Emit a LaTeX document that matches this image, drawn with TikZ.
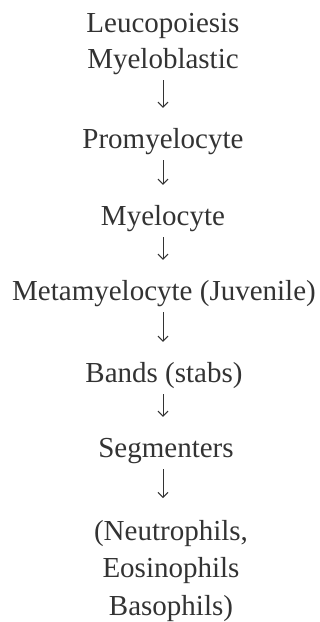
\documentclass[tikz,border=0pt]{standalone}
\usepackage{fontspec}
\setmainfont{Liberation Serif}
\usepackage{tikz}
\usetikzlibrary{arrows.meta}

\begin{document}
\begin{tikzpicture}[x=1pt,y=1pt,
    every node/.style={anchor=base,inner sep=0pt,text height=18pt,text depth=6pt,text=black!80,font=\fontsize{29}{37.5}\selectfont},
    flow/.style={black!80,line width=1pt,-{Straight Barb[length=5pt,width=10pt]},shorten <=6pt,shorten >=22pt}]
    \useasboundingbox (0,0) rectangle (320,-622);
    % Stufen der Leukopoese, von oben nach unten
    \node (leuco) at (163,-32) {Leucopoiesis};
    \node (myelob) at (163,-68) {Myeloblastic};
    \node (promyelo) at (163,-148) {Promyelocyte};
    \node (myelo) at (163,-225) {Myelocyte};
    \node (metamyelo) at (164,-300) {Metamyelocyte (Juvenile)};
    \node (bands) at (164,-382) {Bands (stabs)};
    \node (segm) at (166,-457) {Segmenters};
    \node[anchor=north,align=center,text height=,text depth=] (granulo) at (171,-520) {(Neutrophils,\\Eosinophils\\Basophils)};
    % Pfeile
    \draw[flow] (myelob) -- (promyelo);
    \draw[flow] (promyelo) -- (myelo);
    \draw[flow] (myelo) -- (myelo |- metamyelo.north);
    \draw[flow] (myelo |- metamyelo.south) -- (myelo |- bands.north);
    \draw[flow] (myelo |- bands.south) -- (myelo |- segm.north);
    \draw[flow] (myelo |- segm.south) -- (myelo |- granulo.north);
\end{tikzpicture}
\end{document}
